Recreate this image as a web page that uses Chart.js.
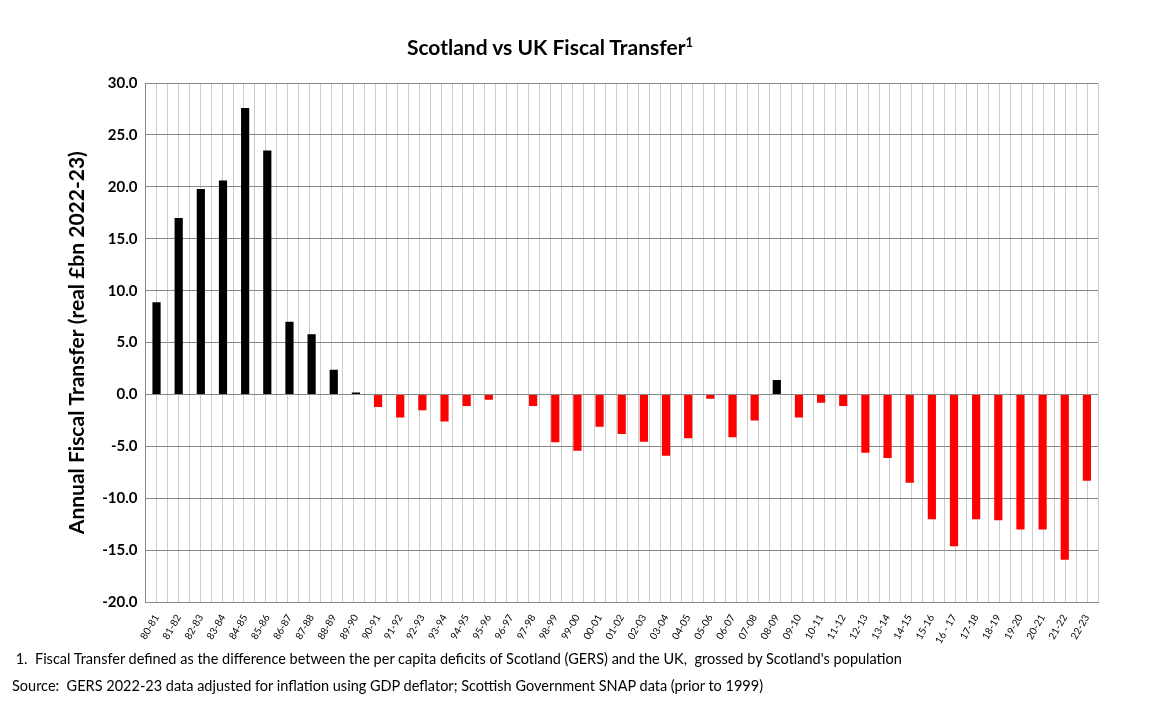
<!DOCTYPE html>
<html><head><meta charset="utf-8">
<script src="https://cdn.jsdelivr.net/npm/chart.js@4"></script>
<style>
body{margin:0;background:#fff;font-family:Lato,"Open Sans",sans-serif;}
#wrap{position:relative;width:1150px;height:706px;}
#title{position:absolute;left:0;width:1100px;text-align:center;top:34px;font-weight:bold;font-size:21px;color:#000;}
#title sup{font-size:13px;}
.note{position:absolute;left:12px;font-size:14.5px;color:#000;}
canvas{position:absolute;left:0;top:0;}
</style></head><body>
<div id="wrap">
<canvas id="c" width="1150" height="706"></canvas>
<div id="title">Scotland vs UK Fiscal Transfer<sup>1</sup></div>
<div class="note" style="top:650px">&nbsp;1.&nbsp; Fiscal Transfer defined as the difference between the per capita deficits of Scotland (GERS) and the UK,&nbsp; grossed by Scotland's population</div>
<div class="note" style="top:677px">Source:&nbsp; GERS 2022-23 data adjusted for inflation using GDP deflator; Scottish Government SNAP data (prior to 1999)</div>
</div>
<script>
const categories = ["80-81","81-82","82-83","83-84","84-85","85-86","86-87","87-88","88-89","89-90","90-91","91-92","92-93","93-94","94-95","95-96","96-97","97-98","98-99","99-00","00-01","01-02","02-03","03-04","04-05","05-06","06-07","07-08","08-09","09-10","10-11","11-12","12-13","13-14","14-15","15-16","16 - 17","17-18","18-19","19-20","20-21","21-22","22-23"];
const transfer = [8.9,17.0,19.8,20.6,27.6,23.5,7.0,5.8,2.4,0.2,-1.2,-2.2,-1.5,-2.6,-1.1,-0.5,0,-1.1,-4.6,-5.4,-3.1,-3.8,-4.55,-5.9,-4.2,-0.4,-4.1,-2.5,1.4,-2.2,-0.8,-1.1,-5.6,-6.1,-8.5,-12.0,-14.6,-12.0,-12.1,-13.0,-13.0,-15.9,-8.3];
const yTicks = {min:-20,max:30,step:5};
new Chart(document.getElementById('c'),{
 type:'bar',
 data:{labels:categories,datasets:[{data:transfer,backgroundColor:transfer.map(v=>v>=0?'#000':'#ff0000'),barPercentage:0.37,categoryPercentage:1}]},
 options:{responsive:false,animation:false,
  layout:{padding:{top:83,right:52,bottom:58,left:61}},
  plugins:{legend:{display:false},tooltip:{enabled:false}},
  scales:{
   x:{grid:{display:false},border:{color:'#888'},
      ticks:{autoSkip:false,maxRotation:60,minRotation:60,font:{family:'Lato',size:10},color:'#000',padding:2}},
   x2:{type:'linear',min:-0.5,max:categories.length-0.5,position:'bottom',display:true,
      ticks:{display:false,stepSize:0.5},grid:{color:'#cccccc',drawTicks:false},border:{display:false}},
   y:{min:yTicks.min,max:yTicks.max,
      ticks:{stepSize:yTicks.step,font:{family:'Lato',size:15,weight:'bold'},color:'#000',callback:v=>v.toFixed(1),padding:8},
      grid:{color:'#888',drawTicks:false},border:{color:'#888'},
      title:{display:true,text:'Annual Fiscal Transfer (real £bn 2022-23)',font:{family:'Lato',size:21,weight:'bold'},color:'#000'}}
  }}
});
</script>
</body></html>
